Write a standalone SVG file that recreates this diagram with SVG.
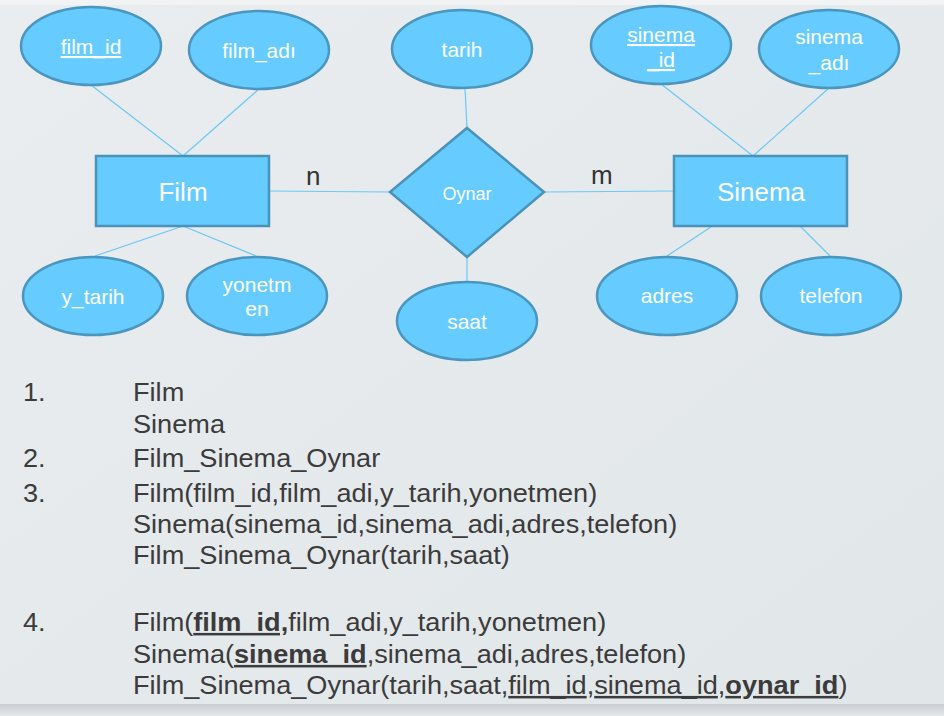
<svg xmlns="http://www.w3.org/2000/svg" width="944" height="716" viewBox="0 0 944 716">
<defs>
<linearGradient id="bg" x1="0" y1="0" x2="1" y2="1">
<stop offset="0" stop-color="#e9edf0"/>
<stop offset="1" stop-color="#e1e6e9"/>
</linearGradient>
<linearGradient id="foot" x1="0" y1="0" x2="0" y2="1">
<stop offset="0" stop-color="#c9ced3"/>
<stop offset="1" stop-color="#e4e7ea"/>
</linearGradient>
<style>
.attr{fill:#66ccff;stroke:#4a96bf;stroke-width:2.5}
.ent{fill:#66ccff;stroke:#4a92b8;stroke-width:2.5}
.lbl{font-family:"Liberation Sans",Arial,sans-serif;fill:#ffffff;text-anchor:middle}
.a{font-size:21px}
.e{font-size:26px}
.card{font-family:"Liberation Sans",Arial,sans-serif;font-size:26px;fill:#333333}
.conn line{stroke:#6cc8f4;stroke-width:1.2}
.list{font-family:"Liberation Sans",Arial,sans-serif;font-size:25px;fill:#3b3b3b}
.b{font-weight:bold}
.u{text-decoration:underline}
</style>
</defs>
<rect width="944" height="716" fill="url(#bg)"/>
<rect x="0" y="0" width="944" height="5" fill="#f1f3f5"/>
<rect x="0" y="704" width="944" height="12" fill="url(#foot)"/>

<g id="connectors" class="conn">
<line x1="91" y1="85" x2="183" y2="156"/>
<line x1="259" y1="89" x2="183" y2="156"/>
<line x1="183" y1="226" x2="95" y2="256"/>
<line x1="183" y1="226" x2="256" y2="256"/>
<line x1="269" y1="191" x2="390" y2="192"/>
<line x1="465" y1="88" x2="467" y2="128"/>
<line x1="467" y1="257" x2="467" y2="282"/>
<line x1="544" y1="192" x2="674" y2="191"/>
<line x1="661" y1="84" x2="753" y2="156"/>
<line x1="829" y1="88" x2="753" y2="156"/>
<line x1="738" y1="209" x2="667" y2="256"/>
<line x1="783" y1="209" x2="830" y2="256"/>
</g>

<g id="film_id"><ellipse class="attr" cx="91" cy="46" rx="70" ry="39"/><text class="lbl a u" x="91" y="54">film_id</text></g>
<g id="film_adi"><ellipse class="attr" cx="259" cy="50" rx="70" ry="39"/><text class="lbl a" x="259" y="58">film_adı</text></g>
<g id="tarih"><ellipse class="attr" cx="462" cy="49" rx="70" ry="39"/><text class="lbl a" x="462" y="57">tarih</text></g>
<g id="sinema_id"><ellipse class="attr" cx="661" cy="45" rx="70" ry="39"/><text class="lbl a u" x="661" y="42">sinema</text><text class="lbl a u" x="661" y="67">_id</text></g>
<g id="sinema_adi"><ellipse class="attr" cx="829" cy="49" rx="70" ry="39"/><text class="lbl a" x="829" y="44">sinema</text><text class="lbl a" x="829" y="70">_adı</text></g>

<g id="film"><rect class="ent" x="96" y="156" width="173" height="70"/><text class="lbl e" x="183" y="201">Film</text></g>
<g id="oynar"><polygon class="ent" points="467,128 544,192 467,257 390,192"/><text class="lbl" style="font-size:18px" x="467" y="200">Oynar</text></g>
<g id="sinema"><rect class="ent" x="674" y="156" width="173" height="70"/><text class="lbl e" x="761" y="201">Sinema</text></g>

<text class="card" x="306" y="185">n</text>
<text class="card" x="591" y="184">m</text>

<g id="y_tarih"><ellipse class="attr" cx="93" cy="296" rx="70" ry="39"/><text class="lbl a" x="93" y="304">y_tarih</text></g>
<g id="yonetmen"><ellipse class="attr" cx="257" cy="296" rx="70" ry="39"/><text class="lbl a" x="257" y="292">yonetm</text><text class="lbl a" x="257" y="316">en</text></g>
<g id="saat"><ellipse class="attr" cx="467" cy="321" rx="70" ry="39"/><text class="lbl a" x="467" y="329">saat</text></g>
<g id="adres"><ellipse class="attr" cx="667" cy="296" rx="70" ry="39"/><text class="lbl a" x="667" y="303">adres</text></g>
<g id="telefon"><ellipse class="attr" cx="831" cy="296" rx="70" ry="39"/><text class="lbl a" x="831" y="303">telefon</text></g>

<g class="list" transform="scale(1.085,1)">
<text x="21.2" y="401">1.</text>
<text x="122.6" y="401">Film</text>
<text x="122.6" y="433">Sinema</text>
<text x="21.2" y="467">2.</text>
<text x="122.6" y="467">Film_Sinema_Oynar</text>
<text x="21.2" y="502">3.</text>
<text x="122.6" y="502">Film(film_id,film_adi,y_tarih,yonetmen)</text>
<text x="122.6" y="533">Sinema(sinema_id,sinema_adi,adres,telefon)</text>
<text x="122.6" y="564">Film_Sinema_Oynar(tarih,saat)</text>
<text x="21.2" y="631">4.</text>
<text x="122.6" y="631">Film(<tspan class="b u">film_id,</tspan>film_adi,y_tarih,yonetmen)</text>
<text x="122.6" y="663">Sinema(<tspan class="b u">sinema_id</tspan>,sinema_adi,adres,telefon)</text>
<text x="122.6" y="694">Film_Sinema_Oynar(tarih,saat,<tspan class="u">film_id</tspan>,<tspan class="u">sinema_id</tspan>,<tspan class="b u">oynar_id</tspan>)</text>
</g>
</svg>
